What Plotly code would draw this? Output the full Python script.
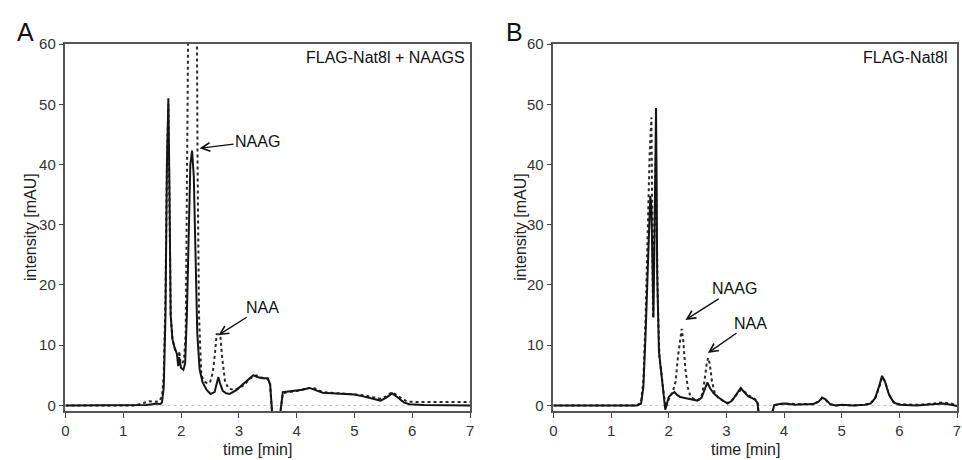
import plotly.graph_objects as go

# ---------------- data ----------------
# Panel A : FLAG-Nat8l + NAAGS
tA_solid = [0, 1.0, 1.4, 1.5, 1.58, 1.64, 1.67, 1.70, 1.73, 1.755,
            1.78, 1.80, 1.82, 1.85, 1.89, 1.93, 1.95, 1.965, 1.98, 2.0,
            2.04, 2.07, 2.10, 2.13, 2.16, 2.19, 2.22, 2.25, 2.28, 2.32,
            2.37, 2.44, 2.51, 2.58, 2.62, 2.645, 2.67, 2.72, 2.78, 2.84,
            2.95, 3.05, 3.15, 3.25, 3.32, 3.4, 3.5, 3.54, 3.57, 3.6,
            3.7, 3.72, 3.76, 3.85, 4.0, 4.1, 4.22, 4.32, 4.45, 4.6,
            4.8, 5.0, 5.15, 5.3, 5.45, 5.55, 5.65, 5.75, 5.85, 5.95,
            6.2, 7.0]
yA_solid = [0, 0, 0.05, 0.2, 0.3, 0.2, 0.5, 3, 15, 40,
            51, 35, 15, 11, 9.5, 8.5, 6.5, 8, 6.8, 6.2,
            5.9, 7, 15, 30, 40, 42.3, 38, 25, 12, 6,
            3.9, 2.6, 1.9, 2.2, 3.5, 4.7, 3.8, 2.4, 2.0, 1.9,
            2.5, 3.3, 4.2, 5.0, 4.7, 4.5, 4.5, 3.5, -0.5, -5,
            -5, -1, 2.2, 2.3, 2.4, 2.6, 2.9, 2.6, 2.1, 2.0,
            1.9, 1.8, 1.5, 1.1, 0.8, 1.3, 2.0, 1.3, 0.5, 0.2,
            0.05, 0.0]

tA_dot = [0, 1.2, 1.35, 1.45, 1.55, 1.62, 1.67, 1.70, 1.73, 1.755,
          1.78, 1.80, 1.82, 1.85, 1.89, 1.93, 1.95, 1.97, 1.99, 2.02,
          2.05, 2.08, 2.11, 2.125, 2.14, 2.2, 2.26, 2.27, 2.285, 2.31,
          2.35, 2.4, 2.45, 2.5, 2.55, 2.59, 2.615, 2.65, 2.68, 2.71,
          2.76, 2.82, 2.9, 3.0, 3.1, 3.2, 3.3, 3.4, 3.5, 3.54,
          3.57, 3.6, 3.7, 3.72, 3.76, 3.85, 4.0, 4.1, 4.22, 4.32,
          4.45, 4.6, 4.8, 5.0, 5.15, 5.3, 5.45, 5.55, 5.65, 5.75,
          5.85, 5.95, 6.2, 7.0]
yA_dot = [0, 0, 0.4, 0.7, 0.6, 0.7, 1.5, 5, 18, 40,
          50, 34, 15, 11, 9.5, 8.5, 7, 9, 7, 7,
          7.5, 12, 40, 65, 90, 100, 90, 65, 40, 15,
          5, 4, 3.7, 3.8, 5.5, 9, 11.8, 11.8, 11.5, 8,
          4, 2.8, 2.6, 2.8, 3.5, 4.5, 5.0, 4.6, 4.4, 3.5,
          -0.5, -5, -5, -1, 2.0, 2.2, 2.4, 2.6, 2.9, 2.8,
          2.2, 2.1, 2.0, 1.9, 1.7, 1.4, 1.1, 1.5, 2.2, 1.6,
          0.9, 0.6, 0.55, 0.55]

# Panel B : FLAG-Nat8l
tB_solid = [0, 1.0, 1.45, 1.52, 1.56, 1.6, 1.63, 1.66, 1.68, 1.70,
            1.72, 1.735, 1.75, 1.765, 1.78, 1.79, 1.80, 1.83, 1.87, 1.91,
            1.94, 1.97, 2.0, 2.05, 2.1, 2.15, 2.2, 2.3, 2.4, 2.5,
            2.57, 2.62, 2.67, 2.72, 2.78, 2.85, 2.95, 3.02, 3.1, 3.18,
            3.25, 3.3, 3.38, 3.45, 3.5, 3.54, 3.56, 3.6, 3.75, 3.8,
            3.83, 3.9, 4.0, 4.1, 4.2, 4.35, 4.5, 4.6, 4.66, 4.72,
            4.8, 4.9, 5.0, 5.2, 5.4, 5.5, 5.58, 5.65, 5.7, 5.75,
            5.82, 5.9, 6.0, 6.3, 6.6, 6.75, 6.9, 7.0]
yB_solid = [0, 0, 0, 0.3, 3, 12, 22, 31, 34.8, 33,
            22, 14.6, 25, 40, 49.4, 38, 22, 9, 5.5, 2.5,
            -0.7, 0.3, 1.4, 1.9, 2.2, 1.7, 1.4, 1.2, 1.0, 0.8,
            1.3, 2.6, 3.8, 2.8, 2.0, 1.4, 0.8, 0.3, 0.8, 2.0,
            2.9, 2.3, 1.5, 1.2, 0.9, 0.4, -2, -5, -5, -1,
            0, 0.2, 0.3, 0.2, 0.1, 0.2, 0.2, 0.6, 1.3, 1.0,
            0.2, 0.0, 0.1, 0.0, 0.1, 0.3, 1.2, 3.2, 4.9, 4.0,
            1.8, 0.5, 0.1, 0.0, 0.15, 0.3, 0.1, -0.1]

tB_dot = [0, 1.0, 1.45, 1.52, 1.56, 1.6, 1.64, 1.67, 1.70, 1.715,
          1.728, 1.745, 1.76, 1.775, 1.79, 1.81, 1.84, 1.88, 1.92, 1.95,
          1.98, 2.02, 2.07, 2.12, 2.16, 2.2, 2.225, 2.25, 2.29, 2.33,
          2.38, 2.45, 2.52, 2.57, 2.62, 2.66, 2.685, 2.71, 2.75, 2.8,
          2.87, 2.95, 3.02, 3.1, 3.18, 3.25, 3.3, 3.38, 3.45, 3.5,
          3.54, 3.56, 3.6, 3.75, 3.8, 3.83, 3.9, 4.0, 4.1, 4.2,
          4.35, 4.5, 4.6, 4.66, 4.72, 4.8, 4.9, 5.0, 5.2, 5.4,
          5.5, 5.58, 5.65, 5.7, 5.75, 5.82, 5.9, 6.0, 6.3, 6.6,
          6.75, 6.9, 7.0]
yB_dot = [0, 0, 0, 0.5, 4, 15, 30, 42, 47.8, 35,
          14.5, 25, 38, 41, 30, 18, 8, 4.5, 1.5, -0.3,
          0.5, 1.5, 2.2, 4, 8, 11.5, 12.7, 11, 6, 3,
          1.4, 1.0, 0.9, 1.5, 4, 7, 7.9, 7, 4, 2.0,
          1.2, 0.7, 0.4, 0.9, 1.9, 2.6, 2.4, 1.7, 1.3, 1.0,
          0.5, -2, -5, -5, -1, 0, 0.2, 0.3, 0.25, 0.15,
          0.2, 0.25, 0.6, 1.2, 0.9, 0.2, 0.0, 0.05, 0.0, 0.1,
          0.3, 1.2, 3.0, 4.7, 4.0, 1.8, 0.6, 0.2, 0.1, 0.3,
          0.5, 0.3, 0.0]

x_ticks = [0, 1, 2, 3, 4, 5, 6, 7]
y_ticks = [0, 10, 20, 30, 40, 50, 60]
panel_titles = ["FLAG-Nat8l + NAAGS", "FLAG-Nat8l"]
panel_letters = ["A", "B"]
x_title = "time [min]"
y_title = "intensity [mAU]"
# arrow annotations: (label, tip time, tip intensity)
arrowsA = [("NAAG", 2.32, 42.7), ("NAA", 2.645, 11.65)]
arrowsB = [("NAAG", 2.29, 14.2), ("NAA", 2.68, 8.7)]

# ---------------- figure ----------------
W, H = 962, 460
FONT = "Liberation Sans, Arial, Helvetica, sans-serif"

def px(v):
    return v / W

def py(v):
    return 1 - v / H

fig = go.Figure()
solid_style = dict(color="#151515", width=2)
dot_style = dict(color="#2a2a2a", width=2, dash="dot")

fig.add_trace(go.Scatter(x=tA_dot, y=yA_dot, mode="lines", line=dot_style,
                         xaxis="x", yaxis="y", showlegend=False))
fig.add_trace(go.Scatter(x=tA_solid, y=yA_solid, mode="lines", line=solid_style,
                         xaxis="x", yaxis="y", showlegend=False))
fig.add_trace(go.Scatter(x=tB_dot, y=yB_dot, mode="lines", line=dot_style,
                         xaxis="x2", yaxis="y2", showlegend=False))
fig.add_trace(go.Scatter(x=tB_solid, y=yB_solid, mode="lines", line=solid_style,
                         xaxis="x2", yaxis="y2", showlegend=False))

ydom = [py(412.7), py(36)]
axis_common = dict(showgrid=False, zeroline=False, showline=True, mirror=True,
                   linecolor="#555", linewidth=1.5, ticks="outside", ticklen=5,
                   tickwidth=1.2, tickcolor="#444",
                   tickfont=dict(family=FONT, size=15, color="#333"))
fig.update_layout(
    width=W, height=H,
    margin=dict(l=0, r=0, t=0, b=0),
    paper_bgcolor="white", plot_bgcolor="white",
    font=dict(family=FONT, color="#222"),
    xaxis=dict(domain=[px(62), px(470)], range=[0, 7], tickvals=x_ticks,
               anchor="y", **axis_common),
    yaxis=dict(domain=ydom, range=[-0.92, 60], tickvals=y_ticks,
               anchor="x", **axis_common),
    xaxis2=dict(domain=[px(554), px(961)], range=[0, 7], tickvals=x_ticks,
                anchor="y2", **axis_common),
    yaxis2=dict(domain=ydom, range=[-0.92, 60], tickvals=y_ticks,
                anchor="x2", **axis_common),
)

shapes = []
for xr, yr in [("x", "y"), ("x2", "y2")]:
    shapes.append(dict(type="line", xref=f"{xr} domain", yref=yr,
                       x0=0, x1=1, y0=0, y1=0,
                       line=dict(color="#bbbbbb", width=1, dash="dot"), layer="below"))
fig.update_layout(shapes=shapes)

ann = []
# panel letters
for lx, lab in zip((11, 504), panel_letters):
    ann.append(dict(text=lab, x=px(lx), y=py(24), xref="paper", yref="paper",
                    xanchor="left", yanchor="middle", showarrow=False,
                    font=dict(family=FONT, size=25, color="#111")))
# panel titles
ann.append(dict(text=panel_titles[0], x=px(467), y=py(50), xref="paper", yref="paper",
                xanchor="right", yanchor="middle", showarrow=False,
                font=dict(family=FONT, size=16, color="#111")))
ann.append(dict(text=panel_titles[1], x=px(953), y=py(50), xref="paper", yref="paper",
                xanchor="right", yanchor="middle", showarrow=False,
                font=dict(family=FONT, size=16, color="#111")))
# axis titles
for cx in (256, 748):
    ann.append(dict(text=x_title, x=px(cx), y=py(452), xref="paper", yref="paper",
                    xanchor="center", yanchor="middle", showarrow=False,
                    font=dict(family=FONT, size=16, color="#222")))
for cx in (26, 520):
    ann.append(dict(text=y_title, x=px(cx), y=py(224), xref="paper", yref="paper",
                    xanchor="center", yanchor="middle", showarrow=False, textangle=-90,
                    font=dict(family=FONT, size=16, color="#222")))
# arrows
offsetsA = [(58, -7), (44, -28)]
offsetsB = [(49, -31), (43, -30)]
for (lab, tx, ty), (ax, ay) in zip(arrowsA, offsetsA):
    ann.append(dict(text=lab, x=tx, y=ty, xref="x", yref="y", ax=ax, ay=ay,
                    showarrow=True, arrowhead=5, arrowsize=1.2, arrowwidth=1.4,
                    arrowcolor="#111", font=dict(family=FONT, size=16, color="#111")))
for (lab, tx, ty), (ax, ay) in zip(arrowsB, offsetsB):
    ann.append(dict(text=lab, x=tx, y=ty, xref="x2", yref="y2", ax=ax, ay=ay,
                    showarrow=True, arrowhead=5, arrowsize=1.2, arrowwidth=1.4,
                    arrowcolor="#111", font=dict(family=FONT, size=16, color="#111")))
fig.update_layout(annotations=ann)

fig.write_html("out.html",
               config={"displayModeBar": False},
               post_script="document.body.style.margin='0';document.body.style.overflow='hidden';")
